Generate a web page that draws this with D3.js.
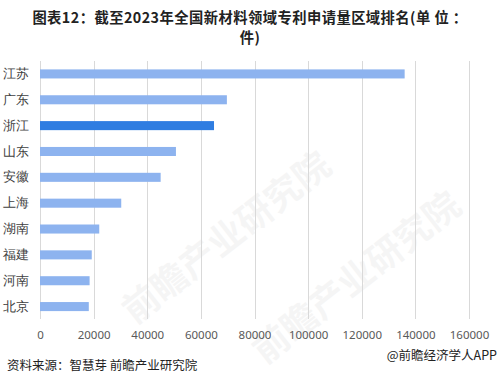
<!DOCTYPE html>
<html><head><meta charset="utf-8">
<script src="https://cdn.jsdelivr.net/npm/d3@7"></script>
<style>
html,body{margin:0;padding:0;background:#fff;}
svg{display:block;font-family:"Noto Sans CJK SC","Noto Sans",sans-serif;}
</style></head>
<body>
<svg id="chart" width="499" height="385"></svg>
<script>
const categories = ["江苏","广东","浙江","山东","安徽","上海","湖南","福建","河南","北京"];
const values = [136000, 69700, 64900, 50700, 45000, 30300, 22100, 19300, 18500, 18200];
const highlight = "浙江";
const tickValues = [0,20000,40000,60000,80000,100000,120000,140000,160000];
const titleLines = ["图表12：截至2023年全国新材料领域专利申请量区域排名(单 位 ：","件)"];
const sourceText = "资料来源：智慧芽 前瞻产业研究院";
const brandText = "@前瞻经济学人APP";

const svg = d3.select("#chart");
const x = d3.scaleLinear().domain([0,160000]).range([40,469]);
const y = d3.scaleBand().domain(categories).range([61,319.5]).paddingInner(0.65).paddingOuter(0.325);

// watermark
const wm = svg.append("g").attr("opacity",0.045).attr("fill","#333");
wm.append("text").attr("transform","translate(135,325) rotate(-38)")
  .attr("font-size",36).attr("font-weight","bold").text("前瞻产业研究院");
wm.append("text").attr("transform","translate(265,365) rotate(-38)")
  .attr("font-size",36).attr("font-weight","bold").text("前瞻产业研究院");

// title
svg.append("g").selectAll("text").data(titleLines).join("text")
  .attr("x",250).attr("y",(d,i)=>23+i*20)
  .attr("text-anchor","middle").attr("font-size",14.3).attr("font-weight","bold")
  .attr("letter-spacing",0.45)
  .attr("fill","#222").text(d=>d);

// gridlines
svg.append("g").selectAll("line").data(tickValues).join("line")
  .attr("x1",d=>Math.round(x(d))+0.5).attr("x2",d=>Math.round(x(d))+0.5)
  .attr("y1",61).attr("y2",319).attr("stroke","#d9d9d9").attr("stroke-width",1);

// x axis labels
const xAxis = d3.axisBottom(x).tickValues(tickValues).tickSize(0).tickPadding(0).tickFormat(d=>String(d));
const gx = svg.append("g").attr("transform","translate(0,331)").call(xAxis);
gx.select(".domain").remove();
gx.selectAll("text").attr("font-size",11.5).attr("fill","#595959")
  .attr("font-family","'Noto Sans','DejaVu Sans',sans-serif");

// bars
svg.append("g").selectAll("rect").data(categories).join("rect")
  .attr("x",x(0)).attr("y",d=>y(d))
  .attr("width",(d,i)=>x(values[i])-x(0)).attr("height",y.bandwidth())
  .attr("fill",d=>d===highlight?"#2f7de1":"#8db3ef");

// category labels
const yAxis = d3.axisLeft(y).tickSize(0).tickPadding(0);
const gy = svg.append("g").attr("transform","translate(3,0)").call(yAxis);
gy.select(".domain").remove();
gy.selectAll("text").attr("text-anchor","start").attr("font-size",13).attr("fill","#404040");

// footer
svg.append("text").attr("x",7).attr("y",370).attr("font-size",12.5).attr("fill","#222").text(sourceText);
svg.append("text").attr("x",497).attr("y",360).attr("text-anchor","end").attr("font-size",12.5).attr("fill","#222").text(brandText);
</script>
</body></html>
